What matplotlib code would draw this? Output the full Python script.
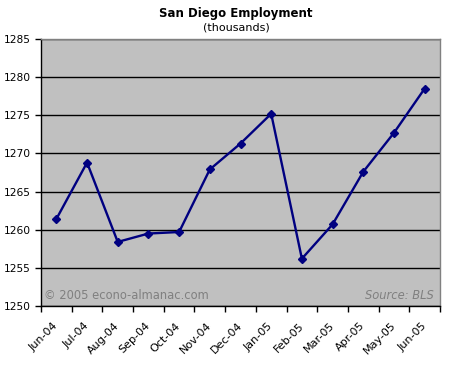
import matplotlib
matplotlib.use("Agg")
import matplotlib.pyplot as plt
import numpy as np

months = ["Jun-04", "Jul-04", "Aug-04", "Sep-04", "Oct-04", "Nov-04", "Dec-04",
          "Jan-05", "Feb-05", "Mar-05", "Apr-05", "May-05", "Jun-05"]
employment = [1261.4, 1268.8, 1258.4, 1259.5, 1259.7, 1267.9, 1271.3,
              1275.2, 1256.2, 1260.7, 1267.6, 1272.7, 1278.5]
y_ticks = [1250, 1255, 1260, 1265, 1270, 1275, 1280, 1285]

plt.rcParams['font.family'] = ['DejaVu Sans']

fig = plt.figure(figsize=(4.5, 3.65), dpi=100)
ax = fig.add_axes([41 / 450, 1 - 306 / 365, 399 / 450, 267 / 365])

x = np.arange(len(months))
ax.plot(x, employment, color='#000080', linewidth=1.7, marker='D', markersize=4,
        markerfacecolor='#000080', markeredgecolor='#000080')

ax.set_facecolor('#C0C0C0')
ax.set_xlim(-0.5, len(months) - 0.5)
ax.set_ylim(1250, 1285)
ax.set_yticks(y_ticks)
ax.yaxis.grid(True, color='black', linewidth=1)
ax.set_axisbelow(True)

# tick marks between categories, labels centred on categories
ax.set_xticks(x)
ax.set_xticklabels(months, rotation=45, ha='right', va='center', rotation_mode='anchor')
ax.set_xticks(np.arange(-0.5, len(months)), minor=True)
ax.tick_params(axis='x', which='major', length=0, labelsize=8, pad=13)
ax.tick_params(axis='x', which='minor', length=4, direction='out', width=1)
ax.tick_params(axis='y', length=4, direction='out', width=1, labelsize=7.7)

ax.spines['top'].set_color('#808080')
ax.spines['right'].set_color('#808080')
for s in ax.spines.values():
    s.set_linewidth(1)

fig.text(236 / 450, 1 - 14 / 365, "San Diego Employment", ha='center', va='center',
         fontsize=8.5, fontweight='bold')
fig.text(236 / 450, 1 - 27 / 365, "(thousands)", ha='center', va='center', fontsize=8)

ax.text(0.008, 0.04, "\u00a9 2005 econo-almanac.com", transform=ax.transAxes,
        color='#808080', fontsize=8.3, ha='left', va='center')
ax.text(0.985, 0.04, "Source: BLS", transform=ax.transAxes, color='#808080',
        fontsize=8.3, style='italic', ha='right', va='center')

plt.savefig('out.png', dpi=100)
